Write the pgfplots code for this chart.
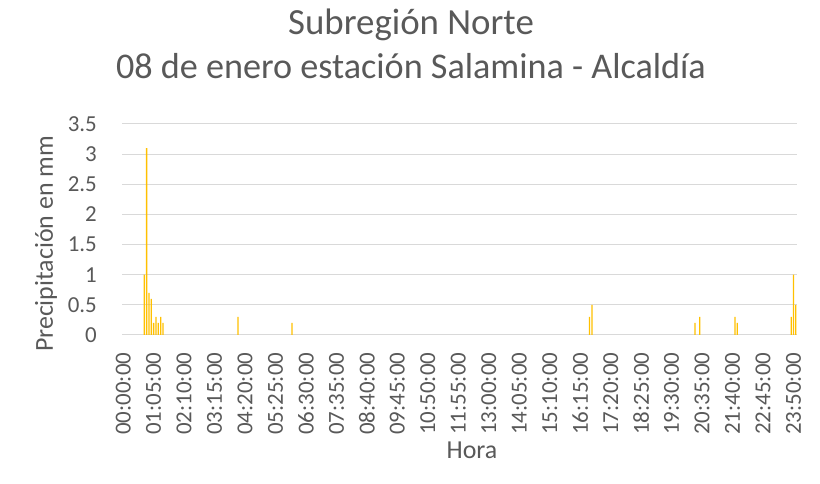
\documentclass[border=0pt]{standalone}
\usepackage{pgfplots}
\pgfplotsset{compat=1.18}
\usepackage{fontspec}
\setmainfont{Carlito}
\definecolor{txt}{HTML}{595959}
\definecolor{gridc}{HTML}{D9D9D9}
\definecolor{gold}{HTML}{FFC000}
\begin{document}
\begin{tikzpicture}[x=1bp,y=1bp]
\useasboundingbox (0,0) rectangle (820,484);
\begin{axis}[
  at={(122bp,149bp)}, anchor=south west,
  scale only axis, width=675bp, height=211bp,
  xmin=-0.5, xmax=287.5, ymin=0, ymax=3.5,
  ytick={0,0.5,...,3.5},
  xtick={0,13,...,286},
  xticklabels={00:00:00,01:05:00,02:10:00,03:15:00,04:20:00,05:25:00,06:30:00,07:35:00,08:40:00,09:45:00,10:50:00,11:55:00,13:00:00,14:05:00,15:10:00,16:15:00,17:20:00,18:25:00,19:30:00,20:35:00,21:40:00,22:45:00,23:50:00},
  ymajorgrids, grid style={draw=gridc, line width=1bp},
  axis line style={draw=none}, tick style={draw=none},
  /pgf/number format/assume math mode=true,
  /pgf/number format/fixed,
  ticklabel style={font=\fontsize{23}{28}\selectfont, text=txt},
  xticklabel style={rotate=90, anchor=east, inner xsep=17.5bp},
  yticklabel style={anchor=east, inner xsep=25bp},
  clip=false,
]
\addplot[ybar, bar width=1.3bp, fill=gold, draw=none] coordinates {
(9,1.0) (10,3.1) (11,0.7) (12,0.6) (13,0.2) (14,0.3) (15,0.2) (16,0.3) (17,0.2)
(49,0.3) (72,0.2) (199,0.3) (200,0.5) (244,0.2) (246,0.3) (261,0.3) (262,0.2)
(285,0.3) (286,1.0) (287,0.5)
};
\end{axis}
\node[anchor=base, font=\fontsize{37}{44}\selectfont, text=txt] at (411,449) {Subregión Norte};
\node[anchor=base, font=\fontsize{36.3}{44}\selectfont, text=txt] at (411,405) {08 de enero estación Salamina - Alcaldía};
\node[rotate=90, font=\fontsize{26}{31}\selectfont, text=txt] at (46,240) {Precipitación en mm};
\node[font=\fontsize{26}{31}\selectfont, text=txt] at (472,34) {Hora};
\end{tikzpicture}
\end{document}
